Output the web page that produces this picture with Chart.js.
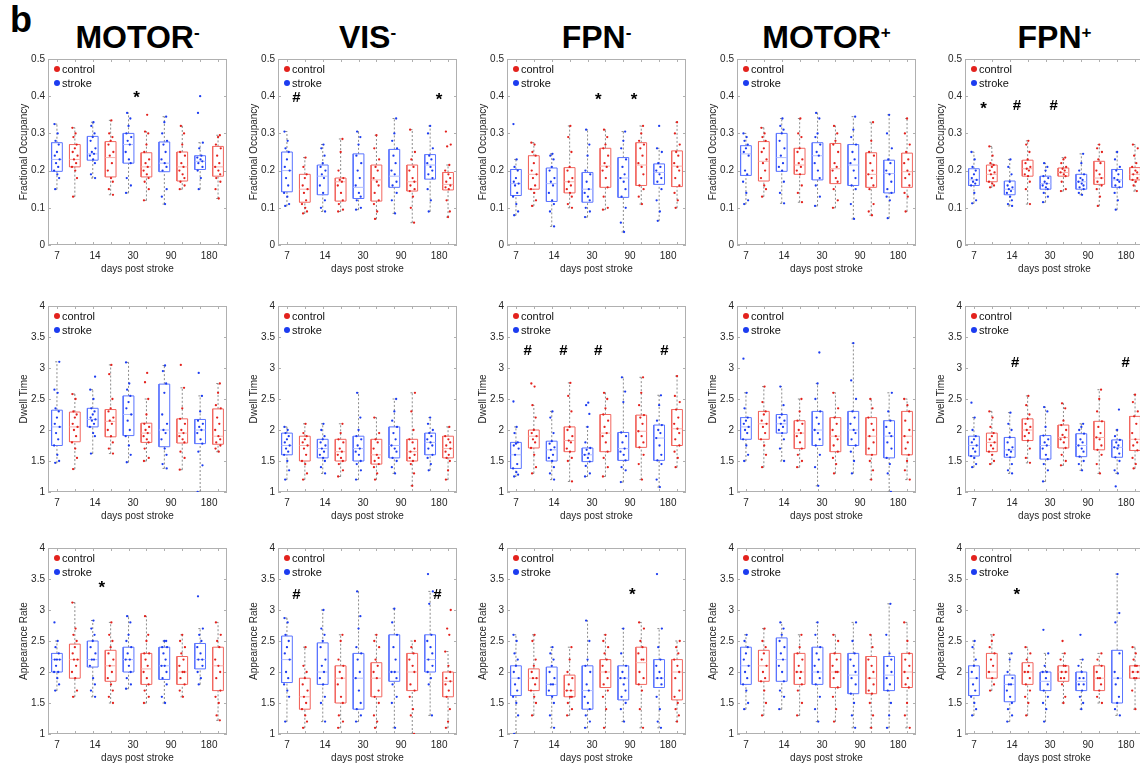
<!DOCTYPE html>
<html>
<head>
<meta charset="utf-8">
<script src="https://cdn.jsdelivr.net/npm/chart.js@4.4.1/dist/chart.umd.min.js"></script>
<style>
  body { margin: 0; width: 1140px; height: 767px; background: #fff; position: relative; overflow: hidden;
         font-family: 'Liberation Sans', Arial, sans-serif; }
  canvas { position: absolute; }
  .title { position: absolute; width: 230px; text-align: center; font-weight: bold; font-size: 32px;
           line-height: 32px; color: #000; top: 21px; }
  .title sup { font-size: 17px; vertical-align: top; position: relative; top: -4px; }
  #tag { position: absolute; left: 10px; top: 2px; font-weight: bold; font-size: 36px; line-height: 36px; }
</style>
</head>
<body>
<div id="tag">b</div>
<script>
// categories / labels
const DAYS = ['7', '14', '30', '90', '180'];
const NETWORKS = ['MOTOR', 'VIS', 'FPN', 'MOTOR', 'FPN'];
const SIGNS = ['-', '-', '-', '+', '+'];
const MEASURES = ['Fractional Occupancy', 'Dwell Time', 'Appearance Rate'];
const Y_MIN = [0, 1, 1];
const Y_MAX = [0.5, 4, 4];
const Y_STEP = [0.1, 0.5, 0.5];
const TICK_POS = [1, 3.125, 5.25, 7.375, 9.5];

// box stats per time point: [low whisker, q1, median, q3, high whisker]
// ---- Fractional Occupancy ----
const foMotorNegStrokeBox = [[.15,.198,.23,.275,.325],[.18,.228,.245,.292,.33],[.14,.22,.27,.30,.355],[.11,.197,.22,.277,.345],[.15,.203,.225,.24,.275]];
const foMotorNegControlBox = [[.13,.21,.23,.27,.315],[.135,.183,.235,.278,.335],[.12,.183,.21,.248,.305],[.15,.172,.21,.25,.32],[.125,.185,.21,.265,.295]];
const foMotorNegStrokePts = [
  [.15,.18,.19,.2,.21,.22,.23,.24,.25,.27,.28,.3,.325],
  [.18,.19,.22,.23,.24,.245,.25,.26,.28,.29,.3,.32,.33],
  [.14,.16,.18,.22,.23,.25,.27,.28,.29,.3,.32,.34,.355],
  [.11,.13,.15,.2,.21,.22,.23,.25,.27,.28,.3,.33,.345],
  [.15,.18,.2,.21,.22,.225,.23,.235,.24,.26,.275,.355,.4]];
const foMotorNegControlPts = [
  [.13,.18,.2,.21,.22,.23,.24,.25,.26,.27,.29,.3,.315],
  [.135,.15,.17,.18,.2,.22,.24,.25,.27,.28,.29,.3,.335],
  [.12,.15,.17,.18,.19,.2,.21,.22,.23,.25,.27,.3,.305,.35],
  [.15,.16,.17,.18,.19,.2,.21,.22,.24,.25,.27,.3,.32],
  [.125,.15,.17,.18,.19,.2,.21,.22,.24,.26,.27,.29,.295]];
const foMotorNegMarks = [[5.45, .405, '*']];

const foVisNegStrokeBox = [[.105,.143,.2,.25,.305],[.09,.135,.185,.215,.27],[.095,.125,.155,.245,.305],[.085,.155,.185,.257,.34],[.09,.177,.215,.243,.32]];
const foVisNegControlBox = [[.085,.115,.15,.19,.235],[.09,.118,.17,.18,.285],[.07,.118,.175,.215,.295],[.06,.145,.17,.215,.31],[.075,.148,.163,.195,.215]];
const foVisNegStrokePts = [
  [.105,.11,.13,.14,.16,.18,.2,.21,.23,.25,.26,.28,.305],
  [.09,.1,.12,.14,.16,.18,.19,.2,.21,.22,.24,.26,.27],
  [.095,.1,.12,.13,.14,.16,.18,.2,.22,.24,.27,.29,.305],
  [.085,.12,.14,.16,.17,.19,.2,.22,.24,.26,.28,.3,.34],
  [.09,.12,.15,.18,.19,.2,.21,.22,.23,.24,.26,.3,.32]];
const foVisNegControlPts = [
  [.085,.09,.1,.11,.12,.14,.15,.16,.18,.19,.21,.235],
  [.09,.095,.11,.12,.14,.16,.17,.175,.18,.2,.25,.285],
  [.07,.09,.11,.12,.14,.16,.17,.18,.2,.21,.23,.26,.295],
  [.06,.1,.13,.145,.15,.16,.17,.18,.2,.21,.23,.25,.31],
  [.075,.09,.12,.15,.155,.16,.17,.18,.19,.2,.215,.265,.27,.305]];
const foVisNegMarks = [[1.53, .395, '#'], [9.5, .4, '*']];

const foFpnNegStrokeBox = [[.08,.133,.165,.203,.23],[.05,.117,.165,.207,.245],[.075,.115,.15,.195,.31],[.035,.128,.18,.235,.305],[.065,.163,.195,.218,.26]];
const foFpnNegControlBox = [[.105,.15,.19,.24,.275],[.1,.14,.17,.208,.32],[.095,.155,.212,.26,.31],[.11,.16,.215,.275,.32],[.1,.157,.212,.253,.33]];
const foFpnNegStrokePts = [
  [.08,.09,.11,.13,.14,.16,.165,.17,.18,.2,.21,.23,.325],
  [.05,.09,.11,.12,.14,.16,.17,.18,.2,.21,.23,.24,.245],
  [.075,.09,.1,.12,.13,.14,.15,.17,.19,.2,.24,.27,.31],
  [.035,.06,.1,.13,.15,.17,.18,.19,.21,.23,.26,.28,.305],
  [.065,.09,.12,.15,.17,.18,.19,.2,.21,.22,.25,.26,.32]];
const foFpnNegControlPts = [
  [.105,.12,.14,.15,.16,.18,.19,.2,.22,.24,.25,.27,.275],
  [.1,.11,.13,.14,.15,.16,.17,.18,.2,.21,.25,.29,.32],
  [.095,.1,.13,.155,.18,.2,.21,.22,.24,.26,.27,.29,.31],
  [.11,.13,.15,.16,.19,.21,.22,.24,.26,.27,.28,.3,.32],
  [.1,.12,.14,.16,.18,.2,.21,.22,.24,.25,.27,.3,.33]];
const foFpnNegMarks = [[5.6, .4, '*'], [7.6, .4, '*']];

const foMotorPosStrokeBox = [[.11,.187,.245,.267,.3],[.112,.198,.235,.3,.34],[.105,.175,.24,.275,.355],[.07,.16,.215,.27,.345],[.072,.14,.192,.228,.35]];
const foMotorPosControlBox = [[.13,.172,.225,.278,.315],[.115,.19,.215,.26,.34],[.1,.165,.205,.273,.32],[.08,.155,.19,.248,.33],[.09,.155,.197,.247,.34]];
const foMotorPosStrokePts = [
  [.11,.12,.14,.17,.19,.2,.24,.25,.26,.27,.28,.29,.3],
  [.112,.14,.17,.2,.21,.22,.24,.26,.28,.3,.31,.32,.34],
  [.105,.13,.16,.18,.2,.22,.24,.25,.27,.29,.3,.34,.355],
  [.07,.11,.15,.16,.18,.2,.22,.23,.25,.27,.29,.31,.345],
  [.072,.12,.13,.14,.15,.17,.19,.2,.22,.23,.26,.3,.35]];
const foMotorPosControlPts = [
  [.13,.15,.16,.18,.2,.22,.23,.25,.26,.28,.29,.3,.315],
  [.115,.14,.16,.19,.2,.21,.22,.23,.25,.26,.29,.3,.34],
  [.1,.12,.15,.17,.18,.2,.21,.22,.25,.27,.28,.3,.32],
  [.08,.09,.11,.15,.16,.18,.19,.2,.22,.24,.25,.28,.33],
  [.09,.13,.14,.16,.18,.19,.2,.22,.23,.25,.27,.3,.34]];
const foMotorPosMarks = [];

const foFpnPosStrokeBox = [[.112,.16,.175,.205,.25],[.105,.135,.15,.172,.23],[.115,.15,.165,.185,.22],[.135,.15,.17,.19,.245],[.095,.155,.175,.203,.25]];
const foFpnPosControlBox = [[.155,.17,.19,.215,.265],[.11,.185,.205,.228,.28],[.145,.185,.195,.207,.235],[.105,.163,.18,.225,.27],[.145,.175,.19,.208,.27]];
const foFpnPosStrokePts = [
  [.112,.12,.14,.16,.165,.17,.175,.18,.19,.2,.21,.23,.25],
  [.105,.11,.12,.13,.14,.145,.15,.155,.16,.17,.19,.21,.23],
  [.115,.13,.14,.15,.155,.16,.165,.17,.18,.185,.2,.21,.22],
  [.135,.14,.15,.155,.16,.165,.17,.175,.18,.19,.2,.22,.245],
  [.095,.12,.14,.155,.16,.17,.175,.18,.19,.2,.21,.23,.25]];
const foFpnPosControlPts = [
  [.155,.16,.165,.17,.18,.19,.195,.2,.21,.215,.22,.24,.265],
  [.11,.15,.17,.185,.19,.2,.205,.21,.22,.23,.25,.27,.28],
  [.145,.15,.17,.185,.19,.195,.2,.205,.21,.22,.23,.235],
  [.105,.13,.15,.16,.17,.18,.19,.2,.22,.23,.25,.26,.27],
  [.145,.16,.17,.175,.18,.19,.195,.2,.21,.22,.24,.26,.27]];
const foFpnPosMarks = [[1.53, .375, '*'], [3.4, .375, '#'], [5.45, .375, '#']];

// ---- Dwell Time ----
const dtMotorNegStrokeBox = [[1.47,1.75,2.05,2.32,3.1],[1.62,2.05,2.17,2.35,2.65],[1.48,1.91,2.25,2.55,3.09],[1.38,1.73,2.0,2.74,3.04],[1.0,1.78,2.0,2.17,2.55]];
const dtMotorNegControlBox = [[1.37,1.81,2.05,2.29,2.58],[1.62,1.89,2.14,2.33,3.05],[1.5,1.8,1.95,2.11,2.5],[1.36,1.79,1.95,2.18,2.68],[1.65,1.77,1.9,2.34,2.75]];
const dtMotorNegStrokePts = [
  [1.47,1.5,1.6,1.75,1.85,1.95,2.05,2.1,2.2,2.3,2.35,2.6,2.65,3.1],
  [1.62,1.9,1.95,2.05,2.1,2.15,2.17,2.2,2.25,2.3,2.35,2.5,2.65,2.86],
  [1.48,1.6,1.75,1.9,2.0,2.15,2.25,2.35,2.45,2.55,2.65,2.75,3.09],
  [1.38,1.45,1.6,1.7,1.85,1.95,2.0,2.1,2.25,2.6,2.75,2.95,3.04],
  [1.0,1.43,1.65,1.78,1.85,1.95,2.0,2.05,2.1,2.15,2.3,2.55,2.92]];
const dtMotorNegControlPts = [
  [1.37,1.55,1.7,1.8,1.9,2.0,2.05,2.1,2.2,2.25,2.3,2.5,2.58],
  [1.62,1.7,1.8,1.9,2.0,2.1,2.15,2.2,2.3,2.35,2.5,2.9,3.05],
  [1.5,1.55,1.7,1.8,1.85,1.9,1.95,2.0,2.05,2.1,2.25,2.5,2.77,2.92],
  [1.36,1.55,1.65,1.8,1.85,1.9,1.95,2.0,2.1,2.18,2.35,2.68,3.05],
  [1.65,1.7,1.75,1.8,1.85,1.9,2.0,2.1,2.2,2.35,2.4,2.6,2.75]];
const dtMotorNegMarks = [];

const dtVisNegStrokeBox = [[1.2,1.6,1.75,1.95,2.05],[1.3,1.55,1.7,1.85,2.1],[1.2,1.5,1.7,1.9,2.6],[1.3,1.55,1.75,2.05,2.5],[1.35,1.6,1.8,1.95,2.2]];
const dtVisNegControlBox = [[1.2,1.5,1.75,1.9,2.1],[1.25,1.5,1.65,1.85,2.1],[1.2,1.45,1.6,1.85,2.2],[1.1,1.5,1.65,1.85,2.6],[1.2,1.55,1.7,1.9,2.05]];
const dtVisNegStrokePts = [
  [1.2,1.35,1.5,1.6,1.65,1.7,1.75,1.8,1.85,1.9,1.95,2.0,2.05],
  [1.3,1.4,1.5,1.55,1.6,1.65,1.7,1.75,1.8,1.85,1.9,2.0,2.1],
  [1.2,1.35,1.45,1.5,1.6,1.65,1.7,1.75,1.85,1.9,2.0,2.2,2.6],
  [1.3,1.4,1.5,1.55,1.65,1.7,1.75,1.85,1.95,2.05,2.15,2.3,2.5],
  [1.35,1.45,1.55,1.6,1.7,1.75,1.8,1.85,1.9,1.95,2.0,2.1,2.2]];
const dtVisNegControlPts = [
  [1.2,1.3,1.45,1.5,1.6,1.7,1.75,1.8,1.85,1.9,1.95,2.1],
  [1.25,1.35,1.45,1.5,1.55,1.6,1.65,1.7,1.8,1.85,1.95,2.1],
  [1.2,1.3,1.4,1.45,1.5,1.55,1.6,1.7,1.8,1.85,1.95,2.2],
  [1.1,1.3,1.45,1.5,1.55,1.6,1.65,1.7,1.8,1.85,2.0,2.3,2.6],
  [1.2,1.35,1.5,1.55,1.6,1.65,1.7,1.75,1.8,1.85,1.9,2.05]];
const dtVisNegMarks = [];

const dtFpnNegStrokeBox = [[1.25,1.38,1.6,1.8,2.05],[1.2,1.5,1.68,1.82,2.3],[1.25,1.49,1.6,1.71,2.05],[1.16,1.51,1.7,1.96,2.85],[1.08,1.51,1.87,2.08,2.56]];
const dtFpnNegControlBox = [[1.3,1.71,1.9,2.0,2.4],[1.17,1.65,1.83,2.05,2.76],[1.25,1.65,1.95,2.25,2.6],[1.2,1.72,1.98,2.24,2.85],[1.4,1.75,2.02,2.33,2.87]];
const dtFpnNegStrokePts = [
  [1.25,1.28,1.32,1.38,1.45,1.6,1.7,1.75,1.78,1.8,1.95,2.05,2.46],
  [1.2,1.3,1.4,1.5,1.55,1.6,1.68,1.72,1.78,1.82,1.95,2.2,2.3],
  [1.25,1.3,1.42,1.49,1.55,1.6,1.62,1.68,1.71,1.8,2.05,2.26,2.4,2.44],
  [1.16,1.35,1.4,1.51,1.6,1.65,1.7,1.8,1.9,1.96,2.45,2.62,2.85],
  [1.08,1.2,1.45,1.51,1.6,1.75,1.87,1.95,2.0,2.08,2.15,2.4,2.56]];
const dtFpnNegControlPts = [
  [1.3,1.4,1.6,1.71,1.8,1.85,1.9,1.95,2.0,2.2,2.4,2.7,2.75],
  [1.17,1.5,1.55,1.65,1.7,1.8,1.83,1.9,2.0,2.05,2.3,2.55,2.76],
  [1.25,1.4,1.55,1.65,1.8,1.9,1.95,2.05,2.15,2.25,2.35,2.5,2.6],
  [1.2,1.45,1.6,1.72,1.8,1.9,1.98,2.1,2.2,2.24,2.4,2.6,2.85],
  [1.4,1.55,1.65,1.75,1.85,1.95,2.02,2.1,2.2,2.33,2.45,2.55,2.87]];
const dtFpnNegMarks = [[1.66, 3.28, '#'], [3.65, 3.28, '#'], [5.6, 3.28, '#'], [9.3, 3.28, '#']];

const dtMotorPosStrokeBox = [[1.5,1.85,2.05,2.2,2.6],[1.5,1.95,2.1,2.25,2.7],[1.1,1.75,2.0,2.3,2.75],[1.3,1.75,2.0,2.3,3.4],[1.0,1.55,1.9,2.15,2.6]];
const dtMotorPosControlBox = [[1.4,1.85,2.1,2.3,2.7],[1.4,1.7,1.95,2.15,2.5],[1.3,1.65,1.9,2.2,2.6],[1.2,1.6,1.9,2.2,2.5],[1.2,1.6,1.9,2.3,2.5]];
const dtMotorPosStrokePts = [
  [1.5,1.6,1.75,1.85,1.95,2.0,2.05,2.1,2.15,2.2,2.35,2.6,3.15],
  [1.5,1.7,1.85,1.95,2.0,2.05,2.1,2.15,2.2,2.25,2.4,2.7],
  [1.1,1.4,1.6,1.75,1.85,1.95,2.0,2.1,2.2,2.3,2.5,2.75,3.25],
  [1.3,1.5,1.65,1.75,1.85,1.95,2.0,2.1,2.2,2.3,2.5,2.8,3.4],
  [1.0,1.3,1.45,1.55,1.7,1.8,1.9,1.95,2.05,2.15,2.3,2.6]];
const dtMotorPosControlPts = [
  [1.4,1.6,1.75,1.85,1.95,2.05,2.1,2.15,2.25,2.3,2.45,2.7],
  [1.4,1.5,1.6,1.7,1.8,1.9,1.95,2.0,2.1,2.15,2.3,2.5],
  [1.3,1.45,1.55,1.65,1.75,1.85,1.9,2.0,2.1,2.2,2.35,2.6],
  [1.2,1.35,1.5,1.6,1.7,1.8,1.9,2.0,2.1,2.2,2.35,2.5],
  [1.2,1.35,1.5,1.6,1.7,1.8,1.9,2.0,2.15,2.3,2.4,2.5]];
const dtMotorPosMarks = [];

const dtFpnPosStrokeBox = [[1.4,1.58,1.75,1.9,2.2],[1.3,1.56,1.68,1.88,2.28],[1.17,1.53,1.75,1.91,2.37],[1.35,1.57,1.75,1.94,2.1],[1.3,1.56,1.72,1.84,2.0]];
const dtFpnPosControlBox = [[1.45,1.65,1.8,1.95,2.3],[1.47,1.83,2.0,2.18,2.55],[1.43,1.71,1.88,2.08,2.43],[1.3,1.68,1.88,2.14,2.65],[1.38,1.67,1.85,2.22,2.57]];
const dtFpnPosStrokePts = [
  [1.4,1.45,1.55,1.58,1.65,1.7,1.75,1.8,1.85,1.9,2.0,2.2,2.44],
  [1.3,1.35,1.45,1.56,1.6,1.65,1.68,1.72,1.8,1.88,2.0,2.1,2.28],
  [1.17,1.35,1.45,1.53,1.6,1.7,1.75,1.8,1.85,1.91,2.05,2.3,2.37],
  [1.35,1.45,1.5,1.57,1.65,1.7,1.75,1.8,1.85,1.94,2.0,2.05,2.1],
  [1.09,1.3,1.35,1.5,1.56,1.62,1.7,1.72,1.75,1.8,1.84,1.9,2.0,2.33]];
const dtFpnPosControlPts = [
  [1.45,1.5,1.6,1.65,1.7,1.75,1.8,1.85,1.9,1.95,2.05,2.2,2.3],
  [1.47,1.55,1.7,1.83,1.9,1.95,2.0,2.05,2.1,2.18,2.25,2.4,2.55],
  [1.43,1.5,1.6,1.71,1.8,1.85,1.88,1.92,2.0,2.08,2.15,2.35,2.43],
  [1.3,1.45,1.6,1.68,1.75,1.85,1.88,1.95,2.05,2.14,2.3,2.5,2.65],
  [1.38,1.45,1.55,1.67,1.75,1.8,1.85,1.95,2.1,2.22,2.3,2.45,2.57]];
const dtFpnPosMarks = [[3.3, 3.09, '#'], [9.47, 3.09, '#']];

// ---- Appearance Rate ----
const arMotorNegStrokeBox = [[1.7,2.0,2.2,2.3,2.5],[1.6,2.08,2.2,2.5,2.83],[1.73,2.0,2.2,2.4,2.9],[1.5,1.88,2.1,2.4,2.5],[1.8,2.05,2.2,2.46,2.7]];
const arMotorNegControlBox = [[1.6,1.9,2.2,2.45,3.12],[1.5,1.85,2.1,2.35,2.8],[1.5,1.8,2.05,2.3,2.9],[1.6,1.8,2.0,2.25,2.6],[1.22,1.7,2.1,2.4,2.8]];
const arMotorNegStrokePts = [
  [1.7,1.8,1.9,2.0,2.0,2.1,2.2,2.2,2.2,2.3,2.4,2.5,2.8],
  [1.6,1.7,1.8,1.9,2.1,2.2,2.2,2.3,2.4,2.5,2.6,2.7,2.83],
  [1.73,1.8,1.9,2.0,2.1,2.2,2.2,2.3,2.4,2.5,2.6,2.8,2.9],
  [1.5,1.6,1.8,1.9,2.0,2.1,2.1,2.2,2.3,2.4,2.4,2.5,2.5],
  [1.8,1.9,2.0,2.1,2.2,2.2,2.3,2.4,2.5,2.6,2.7,3.22]];
const arMotorNegControlPts = [
  [1.6,1.7,1.9,2.0,2.1,2.2,2.2,2.3,2.4,2.5,2.6,2.7,3.12],
  [1.5,1.6,1.7,1.8,1.9,2.0,2.1,2.2,2.3,2.4,2.5,2.6,2.8],
  [1.5,1.6,1.7,1.8,1.9,2.0,2.1,2.2,2.3,2.3,2.5,2.6,2.9],
  [1.6,1.7,1.8,1.9,2.0,2.0,2.1,2.2,2.3,2.4,2.5,2.6],
  [1.22,1.3,1.5,1.6,1.7,1.9,2.0,2.1,2.2,2.4,2.5,2.6,2.8]];
const arMotorNegMarks = [[3.5, 3.42, '*']];

const arVisNegStrokeBox = [[1.2,1.83,2.2,2.58,2.87],[1.2,1.8,2.0,2.47,3.0],[1.2,1.4,1.9,2.3,3.3],[1.1,1.85,2.0,2.6,3.02],[1.3,2.0,2.2,2.6,3.3]];
const arVisNegControlBox = [[1.1,1.4,1.6,1.9,2.4],[1.1,1.5,1.9,2.1,2.6],[1.1,1.6,1.9,2.15,2.6],[1.0,1.7,2.0,2.3,2.5],[1.1,1.6,1.85,2.0,2.33]];
const arVisNegStrokePts = [
  [1.2,1.6,1.7,1.8,1.9,2.0,2.2,2.3,2.4,2.5,2.6,2.8,2.87],
  [1.2,1.5,1.6,1.8,1.9,2.0,2.1,2.2,2.4,2.5,2.6,2.7,3.0],
  [1.2,1.3,1.4,1.5,1.7,1.9,2.0,2.2,2.3,2.4,2.7,2.9,3.3],
  [1.1,1.5,1.6,1.8,1.9,2.0,2.0,2.2,2.4,2.6,2.8,3.02],
  [1.3,1.8,1.9,2.0,2.1,2.2,2.3,2.4,2.5,2.6,3.1,3.3,3.58]];
const arVisNegControlPts = [
  [1.1,1.2,1.3,1.4,1.5,1.6,1.7,1.8,1.9,2.0,2.1,2.4],
  [1.1,1.2,1.3,1.5,1.6,1.8,1.9,2.0,2.1,2.2,2.5,2.6],
  [1.1,1.2,1.3,1.5,1.6,1.7,1.9,2.0,2.1,2.2,2.4,2.5,2.6],
  [1.0,1.3,1.4,1.6,1.7,1.8,2.0,2.1,2.2,2.3,2.4,2.5],
  [1.1,1.2,1.4,1.6,1.7,1.8,1.85,1.9,2.0,2.1,2.33,2.6,2.7,3.0]];
const arVisNegMarks = [[1.53, 3.25, '#'], [9.4, 3.25, '#']];

const arFpnNegStrokeBox = [[1.0,1.62,1.9,2.1,2.6],[1.1,1.62,1.8,2.08,2.4],[1.1,1.4,1.7,2.1,2.83],[1.2,1.55,1.9,2.1,2.7],[1.1,1.75,1.9,2.2,2.7]];
const arFpnNegControlBox = [[1.3,1.7,1.9,2.05,2.6],[1.3,1.6,1.7,1.95,2.4],[1.1,1.75,2.0,2.2,2.6],[1.1,1.8,2.15,2.4,2.8],[1.2,1.55,2.0,2.2,2.5]];
const arFpnNegStrokePts = [
  [1.0,1.3,1.5,1.6,1.7,1.8,1.9,2.0,2.1,2.2,2.3,2.5,2.6],
  [1.1,1.3,1.5,1.6,1.7,1.8,1.8,1.9,2.0,2.1,2.2,2.3,2.4],
  [1.1,1.2,1.3,1.4,1.5,1.6,1.7,1.8,2.0,2.1,2.2,2.5,2.83],
  [1.2,1.4,1.5,1.6,1.7,1.8,1.9,1.9,2.0,2.1,2.3,2.7],
  [1.1,1.2,1.4,1.6,1.8,1.9,1.9,2.0,2.1,2.2,2.4,2.7,3.58]];
const arFpnNegControlPts = [
  [1.3,1.5,1.6,1.7,1.8,1.9,1.9,2.0,2.1,2.2,2.5,2.6],
  [1.3,1.4,1.5,1.6,1.6,1.7,1.7,1.8,1.9,2.0,2.2,2.4],
  [1.1,1.4,1.6,1.7,1.8,1.9,2.0,2.1,2.2,2.3,2.4,2.5,2.6],
  [1.1,1.4,1.7,1.8,1.9,2.0,2.2,2.2,2.3,2.4,2.5,2.7,2.8],
  [1.2,1.3,1.4,1.5,1.6,1.7,1.9,2.0,2.1,2.2,2.3,2.4,2.5]];
const arFpnNegMarks = [[7.5, 3.3, '*']];

const arMotorPosStrokeBox = [[1.4,1.8,2.1,2.4,2.6],[1.4,1.85,2.2,2.55,2.8],[1.2,1.8,2.0,2.4,2.8],[1.1,1.65,1.95,2.3,2.8],[1.1,1.7,1.95,2.25,3.1]];
const arMotorPosControlBox = [[1.3,1.85,2.1,2.35,2.7],[1.3,1.8,2.0,2.3,2.6],[1.2,1.75,2.0,2.3,2.6],[1.1,1.65,1.9,2.25,2.6],[1.1,1.75,2.0,2.3,2.8]];
const arMotorPosStrokePts = [
  [1.4,1.5,1.7,1.8,1.9,2.0,2.1,2.2,2.3,2.4,2.5,2.6],
  [1.4,1.6,1.7,1.85,2.0,2.1,2.2,2.3,2.4,2.5,2.6,2.7,2.8],
  [1.2,1.4,1.6,1.8,1.9,2.0,2.1,2.2,2.3,2.4,2.6,2.8],
  [1.1,1.3,1.5,1.65,1.8,1.9,2.0,2.1,2.2,2.3,2.5,2.8],
  [1.1,1.3,1.5,1.7,1.8,1.9,2.0,2.1,2.2,2.3,2.6,3.1]];
const arMotorPosControlPts = [
  [1.3,1.5,1.7,1.85,1.9,2.0,2.1,2.2,2.3,2.4,2.5,2.7],
  [1.3,1.5,1.7,1.8,1.9,2.0,2.0,2.1,2.2,2.3,2.4,2.6],
  [1.2,1.4,1.6,1.75,1.9,2.0,2.0,2.1,2.2,2.3,2.5,2.6],
  [1.1,1.3,1.5,1.65,1.7,1.8,1.9,2.0,2.1,2.2,2.4,2.6],
  [1.1,1.3,1.5,1.75,1.8,1.9,2.0,2.1,2.2,2.3,2.5,2.8]];
const arMotorPosMarks = [];

const arFpnPosStrokeBox = [[1.3,1.62,1.9,2.1,2.5],[1.2,1.52,1.8,1.95,2.3],[1.2,1.7,1.85,2.0,2.3],[1.4,1.7,1.85,2.0,2.2],[1.3,1.5,1.9,2.35,3.58]];
const arFpnPosControlBox = [[1.7,1.9,2.0,2.3,2.6],[1.3,1.8,2.0,2.15,2.4],[1.5,1.85,2.0,2.1,2.3],[1.5,1.7,1.9,2.1,2.3],[1.4,1.9,2.0,2.1,2.4]];
const arFpnPosStrokePts = [
  [1.3,1.4,1.5,1.6,1.7,1.8,1.9,2.0,2.1,2.2,2.4,2.5],
  [1.2,1.3,1.4,1.5,1.6,1.7,1.8,1.8,1.9,2.0,2.2,2.3],
  [1.2,1.4,1.5,1.6,1.7,1.8,1.9,2.0,2.0,2.1,2.3,2.68],
  [1.4,1.5,1.6,1.7,1.8,1.8,1.9,1.9,2.0,2.1,2.2,2.6],
  [1.3,1.4,1.5,1.6,1.8,1.9,2.0,2.3,2.8,2.95,3.58]];
const arFpnPosControlPts = [
  [1.7,1.8,1.9,2.0,2.1,2.2,2.3,2.4,2.5,2.6],
  [1.3,1.5,1.6,1.7,1.8,1.9,2.0,2.0,2.1,2.2,2.3,2.4],
  [1.5,1.6,1.8,1.9,1.9,2.0,2.0,2.1,2.1,2.2,2.3,2.5],
  [1.5,1.6,1.7,1.8,1.9,1.9,2.0,2.1,2.2,2.3],
  [1.4,1.7,1.9,1.9,2.0,2.0,2.1,2.1,2.2,2.3,2.4]];
const arFpnPosMarks = [[3.4, 3.3, '*']];

// rows = measures, cols = networks
const PANELS = [
  [foMotorNegStrokeBox, foMotorNegControlBox, foMotorNegStrokePts, foMotorNegControlPts, foMotorNegMarks],
  [foVisNegStrokeBox, foVisNegControlBox, foVisNegStrokePts, foVisNegControlPts, foVisNegMarks],
  [foFpnNegStrokeBox, foFpnNegControlBox, foFpnNegStrokePts, foFpnNegControlPts, foFpnNegMarks],
  [foMotorPosStrokeBox, foMotorPosControlBox, foMotorPosStrokePts, foMotorPosControlPts, foMotorPosMarks],
  [foFpnPosStrokeBox, foFpnPosControlBox, foFpnPosStrokePts, foFpnPosControlPts, foFpnPosMarks],
  [dtMotorNegStrokeBox, dtMotorNegControlBox, dtMotorNegStrokePts, dtMotorNegControlPts, dtMotorNegMarks],
  [dtVisNegStrokeBox, dtVisNegControlBox, dtVisNegStrokePts, dtVisNegControlPts, dtVisNegMarks],
  [dtFpnNegStrokeBox, dtFpnNegControlBox, dtFpnNegStrokePts, dtFpnNegControlPts, dtFpnNegMarks],
  [dtMotorPosStrokeBox, dtMotorPosControlBox, dtMotorPosStrokePts, dtMotorPosControlPts, dtMotorPosMarks],
  [dtFpnPosStrokeBox, dtFpnPosControlBox, dtFpnPosStrokePts, dtFpnPosControlPts, dtFpnPosMarks],
  [arMotorNegStrokeBox, arMotorNegControlBox, arMotorNegStrokePts, arMotorNegControlPts, arMotorNegMarks],
  [arVisNegStrokeBox, arVisNegControlBox, arVisNegStrokePts, arVisNegControlPts, arVisNegMarks],
  [arFpnNegStrokeBox, arFpnNegControlBox, arFpnNegStrokePts, arFpnNegControlPts, arFpnNegMarks],
  [arMotorPosStrokeBox, arMotorPosControlBox, arMotorPosStrokePts, arMotorPosControlPts, arMotorPosMarks],
  [arFpnPosStrokeBox, arFpnPosControlBox, arFpnPosStrokePts, arFpnPosControlPts, arFpnPosMarks]
];

// layout + style
const PLOT_LEFT = [48, 278, 507, 737, 965];
const PLOT_TOP = [58, 305, 547];
const PLOT_W = 179, PLOT_H = 187, AXIS_W = 48, AXIS_H = 36, PAD_T = 8, PAD_R = 5;
const STROKE_C = '#1c3cf0', CONTROL_C = '#e3221d';
const STROKE_BOX = '#5a74ff', CONTROL_BOX = '#f2665f';
const STROKE_MED = '#b0bcff', CONTROL_MED = '#f7b0ab';
const WHISKER_C = '#8c8c8c';
const HALF = 0.3, CAP = 0.1;
const JITTER = [-0.1, 0.12, 0.02, -0.16, 0.07, -0.05, 0.15, -0.12, 0.0, 0.1, -0.08, 0.04, -0.14, 0.13];

Chart.defaults.font.family = "'Liberation Sans', Arial, sans-serif";
Chart.defaults.font.size = 10;
Chart.defaults.color = '#262626';

function whiskerData(boxes, offset) {
  const d = [];
  boxes.forEach((b, i) => {
    const x = 2 * i + offset;
    d.push({x, y: b[0]}, {x, y: b[1]}, {x, y: null}, {x, y: b[3]}, {x, y: b[4]}, {x, y: null});
    d.push({x: x - CAP, y: b[0]}, {x: x + CAP, y: b[0]}, {x, y: null});
    d.push({x: x - CAP, y: b[4]}, {x: x + CAP, y: b[4]}, {x, y: null});
  });
  return d;
}
function boxData(boxes, offset) {
  const d = [];
  boxes.forEach((b, i) => {
    const x = 2 * i + offset;
    d.push({x: x - HALF, y: b[1]}, {x: x + HALF, y: b[1]}, {x: x + HALF, y: b[3]},
           {x: x - HALF, y: b[3]}, {x: x - HALF, y: b[1]}, {x, y: null});
  });
  return d;
}
function medianData(boxes, offset) {
  const d = [];
  boxes.forEach((b, i) => {
    const x = 2 * i + offset;
    d.push({x: x - HALF, y: b[2]}, {x: x + HALF, y: b[2]}, {x, y: null});
  });
  return d;
}
function pointData(pts, offset) {
  const d = [];
  let k = 0;
  pts.forEach((arr, i) => arr.forEach(v => {
    d.push({x: 2 * i + offset + JITTER[k % JITTER.length], y: v});
    k++;
  }));
  return d;
}

const lineSet = (data, color, order, dash) => ({
  data, showLine: true, borderColor: color, borderWidth: 1, borderDash: dash || [],
  pointRadius: 0, spanGaps: false, order
});
const dotSet = (data, color) => ({
  data, showLine: false, pointRadius: 1.15, pointBackgroundColor: color, pointBorderWidth: 0, order: 0
});

// frame, inward ticks, in-axes legend and significance marks
const decor = {
  id: 'decor',
  beforeDatasetsDraw(chart) {
    const {ctx, chartArea: a, scales: {x, y}} = chart;
    ctx.save();
    ctx.strokeStyle = '#b0b0b0';
    ctx.lineWidth = 1;
    ctx.strokeRect(a.left + 0.5, a.top + 0.5, a.right - a.left - 1, a.bottom - a.top - 1);
    ctx.beginPath();
    y.ticks.forEach(t => {
      const py = Math.round(y.getPixelForValue(t.value)) + 0.5;
      ctx.moveTo(a.left, py); ctx.lineTo(a.left + 3, py);
      ctx.moveTo(a.right, py); ctx.lineTo(a.right - 3, py);
    });
    for (let p = 1; p <= 10; p++) {
      const px = Math.round(x.getPixelForValue(p)) + 0.5;
      ctx.moveTo(px, a.bottom); ctx.lineTo(px, a.bottom - 3);
      ctx.moveTo(px, a.top); ctx.lineTo(px, a.top + 3);
    }
    ctx.stroke();
    ctx.restore();
  },
  afterDatasetsDraw(chart, args, opts) {
    const {ctx, chartArea: a, scales: {x, y}} = chart;
    ctx.save();
    [['control', CONTROL_C, 10], ['stroke', STROKE_C, 24]].forEach(([label, c, dy]) => {
      ctx.fillStyle = c;
      ctx.beginPath();
      ctx.arc(a.left + 9, a.top + dy, 3, 0, Math.PI * 2);
      ctx.fill();
      ctx.fillStyle = '#111';
      ctx.font = "11px 'Liberation Sans', Arial, sans-serif";
      ctx.textBaseline = 'middle';
      ctx.textAlign = 'left';
      ctx.fillText(label, a.left + 14, a.top + dy + 0.5);
    });
    ctx.textAlign = 'center';
    ctx.textBaseline = 'middle';
    ctx.fillStyle = '#000';
    (opts.marks || []).forEach(([mx, my, sym]) => {
      const px = x.getPixelForValue(mx), py = y.getPixelForValue(my);
      if (sym === '*') {
        ctx.font = "bold 17px 'Liberation Sans', Arial, sans-serif";
        ctx.fillText(sym, px, py + 4);
      } else {
        ctx.font = "bold 15px 'Liberation Sans', Arial, sans-serif";
        ctx.fillText(sym, px, py);
      }
    });
    ctx.restore();
  }
};

NETWORKS.forEach((n, c) => {
  const t = document.createElement('div');
  t.className = 'title';
  t.style.left = (PLOT_LEFT[c] + PLOT_W / 2 - 115) + 'px';
  t.innerHTML = n + '<sup>' + SIGNS[c] + '</sup>';
  document.body.appendChild(t);
});

PANELS.forEach((p, idx) => {
  const r = Math.floor(idx / 5), c = idx % 5;
  const [sBox, cBox, sPts, cPts, marks] = p;
  const cv = document.createElement('canvas');
  const W = AXIS_W + PLOT_W + PAD_R, H = PAD_T + PLOT_H + AXIS_H;
  cv.width = W; cv.height = H;
  cv.style.left = (PLOT_LEFT[c] - AXIS_W) + 'px';
  cv.style.top = (PLOT_TOP[r] - PAD_T) + 'px';
  document.body.appendChild(cv);

  new Chart(cv, {
    type: 'scatter',
    data: {
      datasets: [
        dotSet(pointData(sPts, 1), STROKE_C),
        dotSet(pointData(cPts, 2), CONTROL_C),
        lineSet(medianData(sBox, 1), STROKE_MED, 1),
        lineSet(medianData(cBox, 2), CONTROL_MED, 1),
        lineSet(boxData(sBox, 1), STROKE_BOX, 1),
        lineSet(boxData(cBox, 2), CONTROL_BOX, 1),
        lineSet(whiskerData(sBox, 1), WHISKER_C, 2, [2, 2]),
        lineSet(whiskerData(cBox, 2), WHISKER_C, 2, [2, 2])
      ]
    },
    options: {
      responsive: false,
      animation: false,
      events: [],
      layout: {padding: {top: PAD_T, right: PAD_R, left: 0, bottom: 0}},
      plugins: {legend: {display: false}, tooltip: {enabled: false}, decor: {marks}},
      scales: {
        x: {
          type: 'linear', min: 0.5, max: 10.5,
          grid: {display: false, drawTicks: false}, border: {display: false},
          afterBuildTicks: s => { s.ticks = TICK_POS.map(v => ({value: v})); },
          afterFit: s => { s.height = AXIS_H; },
          ticks: {autoSkip: false, maxRotation: 0, padding: 5, callback: (v, i) => DAYS[i]},
          title: {display: true, text: 'days post stroke', padding: {top: 0, bottom: 6}}
        },
        y: {
          min: Y_MIN[r], max: Y_MAX[r],
          grid: {display: false, drawTicks: false}, border: {display: false},
          afterFit: s => { s.width = AXIS_W; },
          ticks: {stepSize: Y_STEP[r], padding: 3, callback: v => String(Math.round(v * 100) / 100)},
          title: {display: true, text: MEASURES[r], padding: {top: 18, bottom: 0}}
        }
      }
    },
    plugins: [decor]
  });
});
</script>
</body>
</html>
